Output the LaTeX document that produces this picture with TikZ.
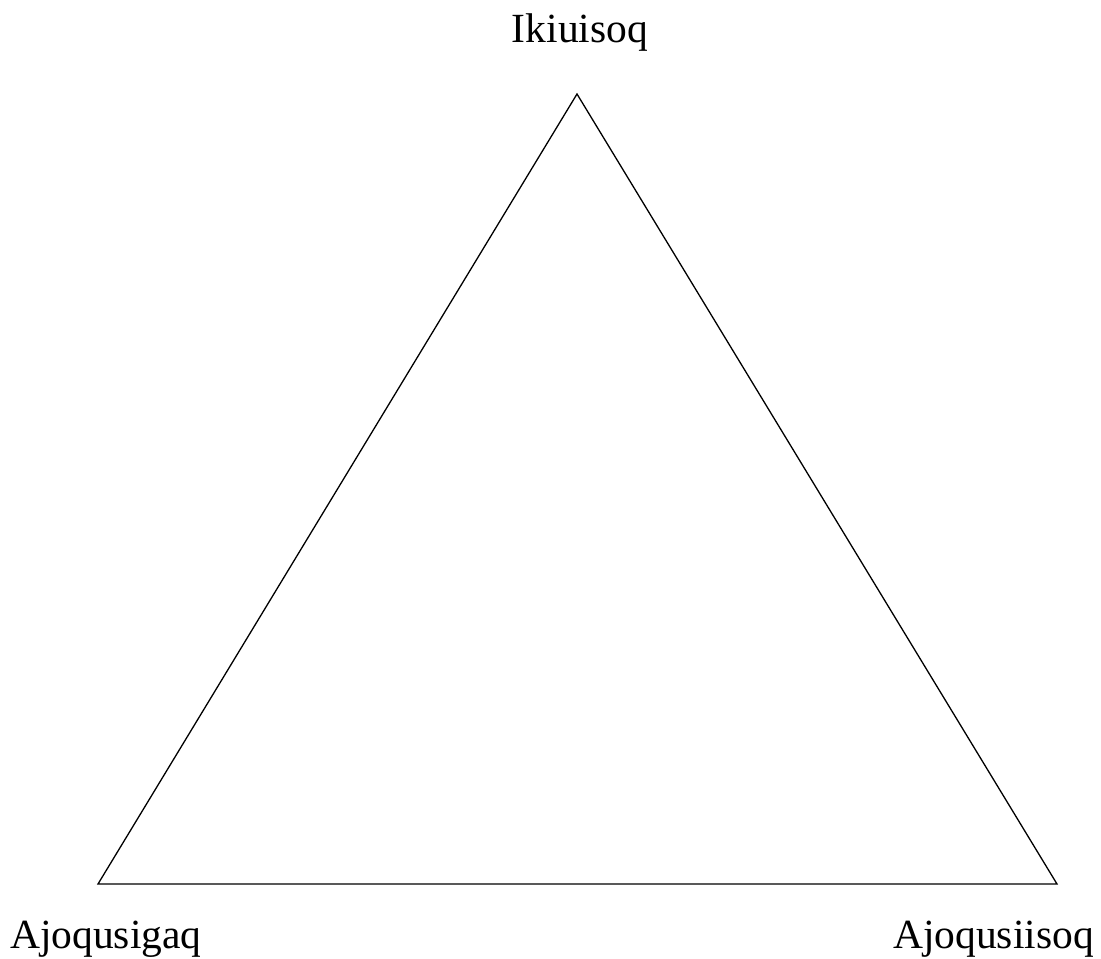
\documentclass[tikz,border=0pt]{standalone}
\usepackage{fontspec}
\setmainfont{Liberation Serif}
\begin{document}
\begin{tikzpicture}[x=1pt,y=-1pt,
  lbl/.style={inner sep=0pt,font=\fontsize{41.5}{48}\selectfont},
  tri/.style={draw=black,line width=1.3pt,line join=miter}]
\useasboundingbox (0,0) rectangle (1101,959);
\coordinate (T) at (577,94);
\coordinate (L) at (98,884);
\coordinate (R) at (1057,884);
\draw[tri] (T) -- (L) -- (R) -- cycle;
\node[lbl,anchor=base] (top) at (580,42) {Ikiuisoq};
\node[lbl,anchor=base west] (bl) at (10,948) {Ajoqusigaq};
\node[lbl,anchor=base east] (br) at (1094,948) {Ajoqusiisoq};
\end{tikzpicture}
\end{document}
